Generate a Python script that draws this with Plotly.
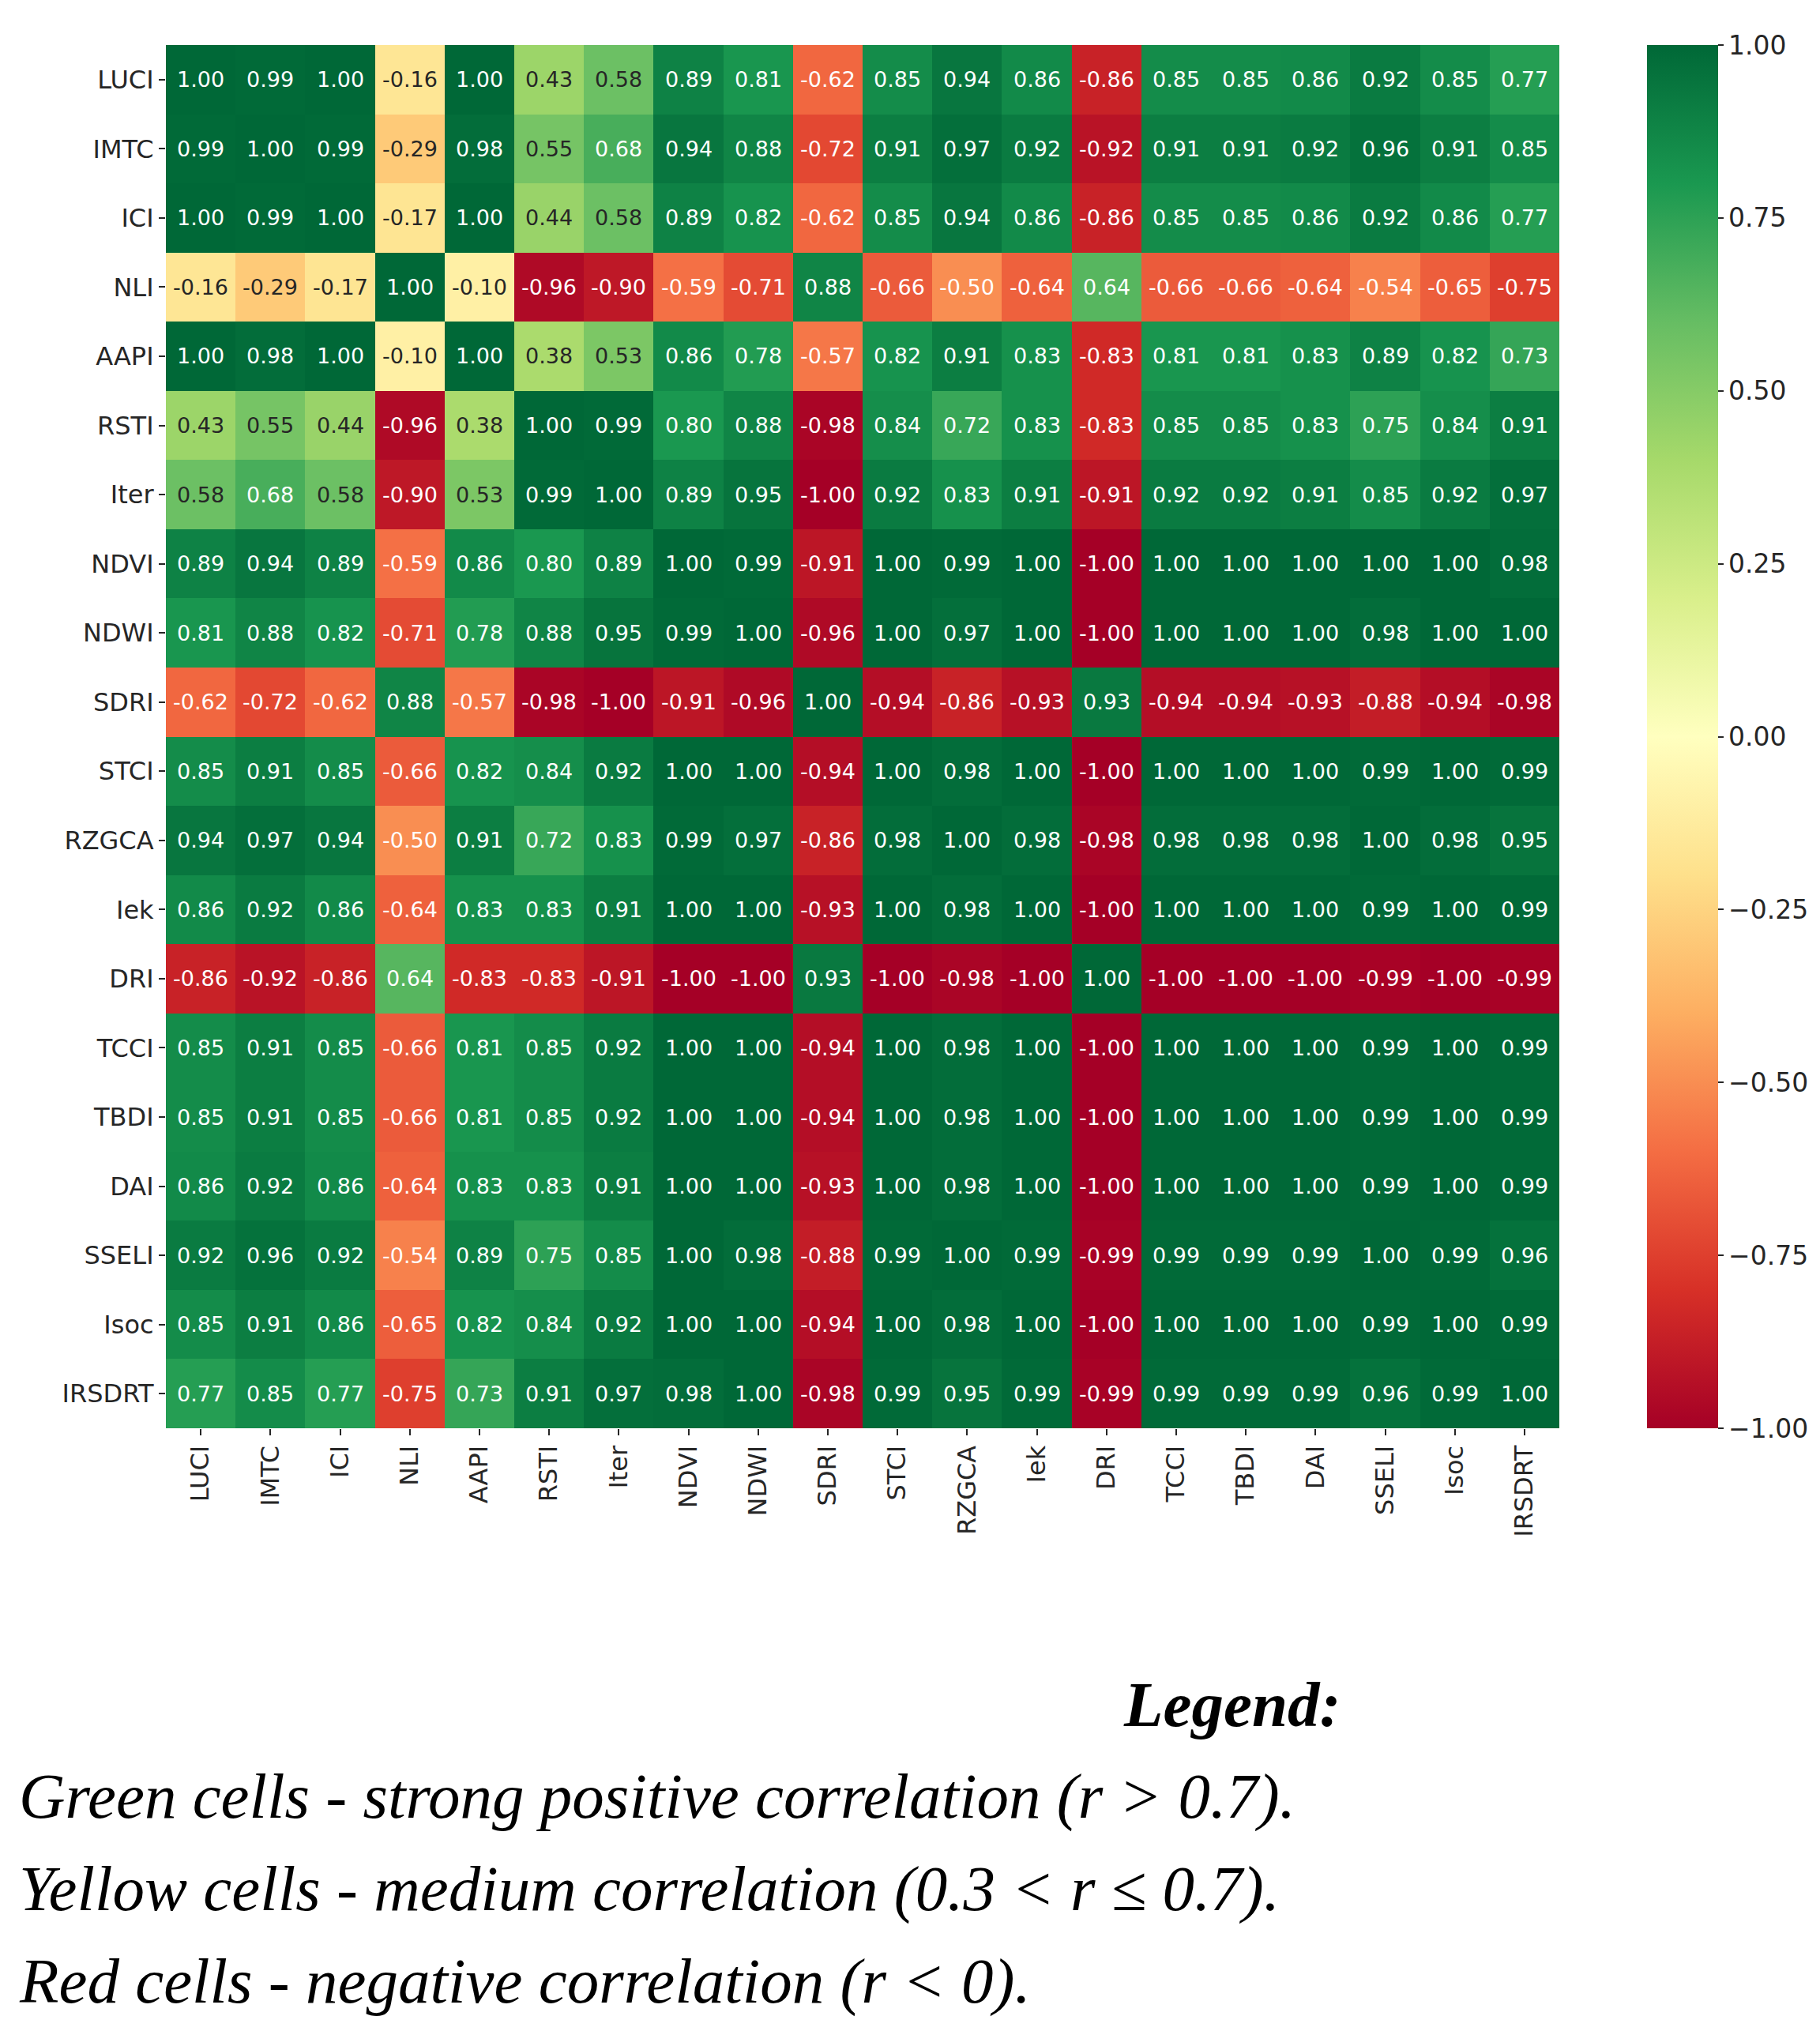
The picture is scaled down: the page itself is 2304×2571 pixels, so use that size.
import numpy as np
import plotly.graph_objects as go
from plotly.colors import sample_colorscale

labels = ['LUCI', 'IMTC', 'ICI', 'NLI', 'AAPI', 'RSTI', 'Iter', 'NDVI', 'NDWI', 'SDRI',
          'STCI', 'RZGCA', 'Iek', 'DRI', 'TCCI', 'TBDI', 'DAI', 'SSELI', 'Isoc', 'IRSDRT']

# correlation rows
LUCI = [1.00, 0.99, 1.00, -0.16, 1.00, 0.43, 0.58, 0.89, 0.81, -0.62, 0.85, 0.94, 0.86, -0.86, 0.85, 0.85, 0.86, 0.92, 0.85, 0.77]
IMTC = [0.99, 1.00, 0.99, -0.29, 0.98, 0.55, 0.68, 0.94, 0.88, -0.72, 0.91, 0.97, 0.92, -0.92, 0.91, 0.91, 0.92, 0.96, 0.91, 0.85]
ICI = [1.00, 0.99, 1.00, -0.17, 1.00, 0.44, 0.58, 0.89, 0.82, -0.62, 0.85, 0.94, 0.86, -0.86, 0.85, 0.85, 0.86, 0.92, 0.86, 0.77]
NLI = [-0.16, -0.29, -0.17, 1.00, -0.10, -0.96, -0.90, -0.59, -0.71, 0.88, -0.66, -0.50, -0.64, 0.64, -0.66, -0.66, -0.64, -0.54, -0.65, -0.75]
AAPI = [1.00, 0.98, 1.00, -0.10, 1.00, 0.38, 0.53, 0.86, 0.78, -0.57, 0.82, 0.91, 0.83, -0.83, 0.81, 0.81, 0.83, 0.89, 0.82, 0.73]
RSTI = [0.43, 0.55, 0.44, -0.96, 0.38, 1.00, 0.99, 0.80, 0.88, -0.98, 0.84, 0.72, 0.83, -0.83, 0.85, 0.85, 0.83, 0.75, 0.84, 0.91]
Iter = [0.58, 0.68, 0.58, -0.90, 0.53, 0.99, 1.00, 0.89, 0.95, -1.00, 0.92, 0.83, 0.91, -0.91, 0.92, 0.92, 0.91, 0.85, 0.92, 0.97]
NDVI = [0.89, 0.94, 0.89, -0.59, 0.86, 0.80, 0.89, 1.00, 0.99, -0.91, 1.00, 0.99, 1.00, -1.00, 1.00, 1.00, 1.00, 1.00, 1.00, 0.98]
NDWI = [0.81, 0.88, 0.82, -0.71, 0.78, 0.88, 0.95, 0.99, 1.00, -0.96, 1.00, 0.97, 1.00, -1.00, 1.00, 1.00, 1.00, 0.98, 1.00, 1.00]
SDRI = [-0.62, -0.72, -0.62, 0.88, -0.57, -0.98, -1.00, -0.91, -0.96, 1.00, -0.94, -0.86, -0.93, 0.93, -0.94, -0.94, -0.93, -0.88, -0.94, -0.98]
STCI = [0.85, 0.91, 0.85, -0.66, 0.82, 0.84, 0.92, 1.00, 1.00, -0.94, 1.00, 0.98, 1.00, -1.00, 1.00, 1.00, 1.00, 0.99, 1.00, 0.99]
RZGCA = [0.94, 0.97, 0.94, -0.50, 0.91, 0.72, 0.83, 0.99, 0.97, -0.86, 0.98, 1.00, 0.98, -0.98, 0.98, 0.98, 0.98, 1.00, 0.98, 0.95]
Iek = [0.86, 0.92, 0.86, -0.64, 0.83, 0.83, 0.91, 1.00, 1.00, -0.93, 1.00, 0.98, 1.00, -1.00, 1.00, 1.00, 1.00, 0.99, 1.00, 0.99]
DRI = [-0.86, -0.92, -0.86, 0.64, -0.83, -0.83, -0.91, -1.00, -1.00, 0.93, -1.00, -0.98, -1.00, 1.00, -1.00, -1.00, -1.00, -0.99, -1.00, -0.99]
TCCI = [0.85, 0.91, 0.85, -0.66, 0.81, 0.85, 0.92, 1.00, 1.00, -0.94, 1.00, 0.98, 1.00, -1.00, 1.00, 1.00, 1.00, 0.99, 1.00, 0.99]
TBDI = [0.85, 0.91, 0.85, -0.66, 0.81, 0.85, 0.92, 1.00, 1.00, -0.94, 1.00, 0.98, 1.00, -1.00, 1.00, 1.00, 1.00, 0.99, 1.00, 0.99]
DAI = [0.86, 0.92, 0.86, -0.64, 0.83, 0.83, 0.91, 1.00, 1.00, -0.93, 1.00, 0.98, 1.00, -1.00, 1.00, 1.00, 1.00, 0.99, 1.00, 0.99]
SSELI = [0.92, 0.96, 0.92, -0.54, 0.89, 0.75, 0.85, 1.00, 0.98, -0.88, 0.99, 1.00, 0.99, -0.99, 0.99, 0.99, 0.99, 1.00, 0.99, 0.96]
Isoc = [0.85, 0.91, 0.86, -0.65, 0.82, 0.84, 0.92, 1.00, 1.00, -0.94, 1.00, 0.98, 1.00, -1.00, 1.00, 1.00, 1.00, 0.99, 1.00, 0.99]
IRSDRT = [0.77, 0.85, 0.77, -0.75, 0.73, 0.91, 0.97, 0.98, 1.00, -0.98, 0.99, 0.95, 0.99, -0.99, 0.99, 0.99, 0.99, 0.96, 0.99, 1.00]

corr = np.array([LUCI, IMTC, ICI, NLI, AAPI, RSTI, Iter, NDVI, NDWI, SDRI,
                 STCI, RZGCA, Iek, DRI, TCCI, TBDI, DAI, SSELI, Isoc, IRSDRT])

legend_title = 'Legend:'
legend_lines = [
    'Green cells - strong positive correlation (r &gt; 0.7).',
    'Yellow cells - medium correlation (0.3 &lt; r ≤ 0.7).',
    'Red cells - negative correlation (r &lt; 0).',
]

W, H = 2304, 2571
L, R, T, B = 202, 1966, 49, 1800  # plot area in px


def px_x(x):
    return (x - L) / (R - L)


def px_y(y):
    return (B - y) / (B - T)


fig = go.Figure(go.Heatmap(
    z=corr, x=labels, y=labels,
    colorscale='RdYlGn', zmin=-1, zmax=1,
    xgap=0, ygap=0, hoverongaps=False,
    colorbar=dict(
        x=px_x(2077), xanchor='left', xpad=0, ypad=0,
        y=0.5, yanchor='middle', len=1, lenmode='fraction',
        thickness=90, thicknessmode='pixels', outlinewidth=0,
        tick0=-1, dtick=0.25, tickformat='.2f',
        ticks='outside', ticklen=7, tickwidth=2, tickcolor='#262626',
        tickfont=dict(family='DejaVu Sans', size=33, color='#262626'),
    ),
))

# cell labels, dark or white text like seaborn does
annots = []
cell_colors = sample_colorscale('RdYlGn', list(((corr.flatten() + 1) / 2)))
for k, v in enumerate(corr.flatten()):
    i, j = divmod(k, len(labels))
    rgb = [int(c) for c in cell_colors[k][4:-1].split(',')]
    lin = [(c / 255) / 12.92 if c / 255 <= 0.03928 else (((c / 255) + 0.055) / 1.055) ** 2.4 for c in rgb]
    lum = 0.2126 * lin[0] + 0.7152 * lin[1] + 0.0722 * lin[2]
    annots.append(dict(
        x=labels[j], y=labels[i], text=f'{v:.2f}', showarrow=False,
        font=dict(family='DejaVu Sans', size=27, color='#262626' if lum > 0.408 else 'white'),
    ))

serif = 'Liberation Serif'
annots.append(dict(
    xref='paper', yref='paper', x=px_x(1691), y=px_y(2150), xanchor='right', yanchor='middle',
    text='<b><i>' + legend_title + '</i></b>', showarrow=False,
    font=dict(family=serif, size=81, color='black'),
))
for n, line in enumerate(legend_lines):
    annots.append(dict(
        xref='paper', yref='paper', x=px_x(14), y=px_y(2266 + n * 117), xanchor='left', yanchor='middle',
        text='<i>' + line + '</i>', showarrow=False,
        font=dict(family=serif, size=81, color='black'),
    ))

fig.update_layout(
    width=W, height=H,
    margin=dict(l=L, r=W - R, t=T, b=H - B, pad=0),
    paper_bgcolor='white', plot_bgcolor='white',
    annotations=annots,
    font=dict(family='DejaVu Sans', color='#262626'),
)
fig.update_xaxes(
    tickangle=-90, ticks='outside', ticklen=8, tickwidth=2, tickcolor='#262626',
    tickfont=dict(size=32, color='#262626'), showgrid=False, zeroline=False,
    showline=False, automargin=False, constrain='domain',
)
fig.update_yaxes(
    autorange='reversed', ticks='outside', ticklen=8, tickwidth=2, tickcolor='#262626',
    tickfont=dict(size=32, color='#262626'), showgrid=False, zeroline=False,
    showline=False, automargin=False,
)

fig.write_html("out.html")
